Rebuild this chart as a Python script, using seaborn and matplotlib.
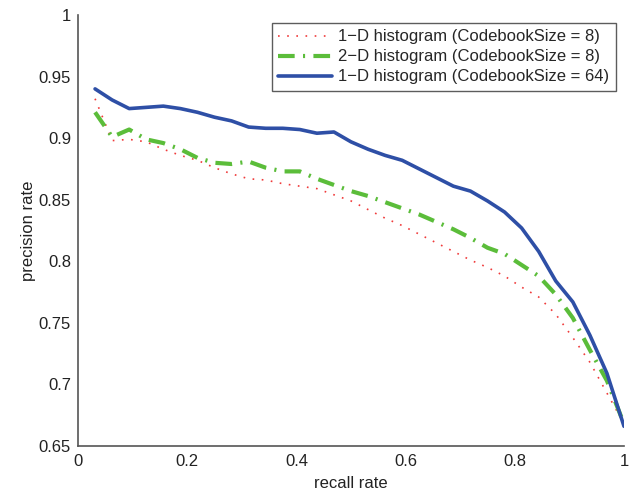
import numpy as np
import pandas as pd
import matplotlib
matplotlib.use("Agg")
import matplotlib.pyplot as plt
import seaborn as sns

recall = [0.03125, 0.0625, 0.09375, 0.125, 0.15625, 0.1875, 0.21875, 0.25,
          0.28125, 0.3125, 0.34375, 0.375, 0.40625, 0.4375, 0.46875, 0.5,
          0.53125, 0.5625, 0.59375, 0.625, 0.65625, 0.6875, 0.71875, 0.75,
          0.78125, 0.8125, 0.84375, 0.875, 0.90625, 0.9375, 0.96875, 1.0]

hist1d_8 = [0.932, 0.898, 0.899, 0.897, 0.891, 0.886, 0.882, 0.876,
            0.871, 0.867, 0.866, 0.863, 0.861, 0.859, 0.854, 0.849,
            0.842, 0.835, 0.829, 0.822, 0.815, 0.808, 0.801, 0.795,
            0.788, 0.779, 0.771, 0.757, 0.738, 0.718, 0.693, 0.668]

hist2d_8 = [0.921, 0.901, 0.907, 0.899, 0.896, 0.891, 0.884, 0.880,
            0.879, 0.881, 0.876, 0.873, 0.873, 0.867, 0.862, 0.857,
            0.853, 0.848, 0.843, 0.838, 0.832, 0.826, 0.819, 0.811,
            0.806, 0.797, 0.788, 0.773, 0.754, 0.728, 0.703, 0.668]

hist1d_64 = [0.940, 0.931, 0.924, 0.925, 0.926, 0.924, 0.921, 0.917,
             0.914, 0.909, 0.908, 0.908, 0.907, 0.904, 0.905, 0.897,
             0.891, 0.886, 0.882, 0.875, 0.868, 0.861, 0.857, 0.849,
             0.840, 0.827, 0.808, 0.784, 0.767, 0.740, 0.709, 0.666]

labels = ["1\u2212D histogram (CodebookSize = 8)",
          "2\u2212D histogram (CodebookSize = 8)",
          "1\u2212D histogram (CodebookSize = 64)"]

xticks = [0, 0.2, 0.4, 0.6, 0.8, 1]
yticks = [0.65, 0.7, 0.75, 0.8, 0.85, 0.9, 0.95, 1]

sns.set_theme(style="white")
plt.rcParams['font.family'] = ['Liberation Sans', 'DejaVu Sans']
plt.rcParams['font.size'] = 12

fig = plt.figure(figsize=(6.44, 4.92), dpi=100)
ax = fig.add_axes([78/644, 1-446/492, (624-78)/644, (446-15)/492])

sns.lineplot(x=recall, y=hist1d_8, ax=ax, color='#f03a3a', lw=1.2,
             linestyle=(0, (1, 4.5)), label=labels[0])
sns.lineplot(x=recall, y=hist2d_8, ax=ax, color='#5bbd3a', lw=3,
             linestyle=(0, (4, 2, 0.5, 2)), label=labels[1])
sns.lineplot(x=recall, y=hist1d_64, ax=ax, color='#2e4fa6', lw=2.6,
             linestyle='-', label=labels[2])

ax.set_xlim(0, 1)
ax.set_ylim(0.65, 1)
ax.set_xticks(xticks)
ax.set_xticklabels([f"{t:g}" for t in xticks])
ax.set_yticks(yticks)
ax.set_yticklabels([f"{t:g}" for t in yticks])
ax.tick_params(direction='in', length=4, width=1, colors='#404040',
               labelcolor='#222222', labelsize=12)
ax.tick_params(axis='x', pad=6)
ax.tick_params(axis='y', pad=5)
for s in ['top', 'right']:
    ax.spines[s].set_visible(False)
for s in ['left', 'bottom']:
    ax.spines[s].set_color('#555555')
    ax.spines[s].set_linewidth(1.2)
ax.set_xlabel("recall rate", fontsize=12, color='#222222', labelpad=5)
ax.set_ylabel("precision rate", fontsize=12, color='#222222', labelpad=2)

leg = ax.legend(loc='upper right', bbox_to_anchor=((616 - 78) / 546, 0.982),
                frameon=True, fancybox=False, fontsize=12,
                handlelength=3.2, handletextpad=0.4, borderpad=0.4,
                labelspacing=0.3, borderaxespad=0)
leg.get_frame().set_edgecolor('#333333')
leg.get_frame().set_linewidth(1.0)

fig.savefig("out.png", dpi=100)
